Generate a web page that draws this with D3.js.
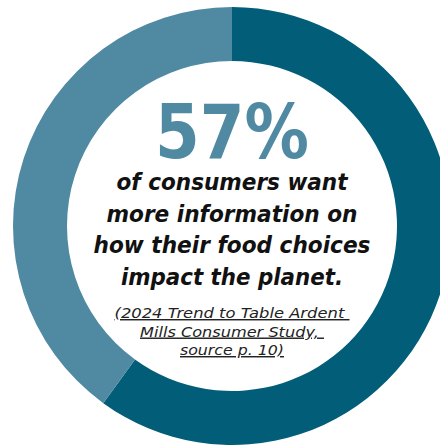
<!DOCTYPE html>
<html>
<head>
    <style type="text/css">
        body { margin: 0; background: #fff; }
        #mySvg { width: 440px; height: 445px; display: block; }
        text { text-anchor: middle; }
        .big { font-family: "DejaVu Sans", sans-serif; font-weight: bold; fill: #4f89a2; }
        .claim { font-family: "DejaVu Sans", sans-serif; font-weight: bold; font-style: italic; fill: #111; }
        .source { font-family: "DejaVu Sans", sans-serif; font-style: italic; fill: #222; text-decoration: underline; }
    </style>
    <script src="https://d3js.org/d3.v7.min.js"></script>
</head>
<body>
    <svg id="mySvg"></svg>
</body>
<script type="text/javascript">
// ring shares as drawn in the picture (dark part first, clockwise from top)
const segments = ['want more info', 'rest'];
const shares = [60, 40];
const segmentColors = ['#025e78', '#4f89a2'];

const headline = '57%';
const claimLines = ['of consumers want', 'more information on', 'how their food choices', 'impact the planet.'];
const claimWidths = [231, 251, 277, 222];
const sourceLines = ['(2024 Trend to Table Ardent\u00a0', 'Mills Consumer Study,\u00a0', 'source p. 10)'];
const sourceWidths = [235, 184, 104];

const cx = 232, cy = 226;
const outerR = 219, innerR = 165;

const svg = d3.select('#mySvg');
const g = svg.append('g').attr('transform', 'translate(' + cx + ',' + cy + ')');

const pie = d3.pie().sort(null).value(d => d.v);
const arc = d3.arc().innerRadius(innerR).outerRadius(outerR);

g.selectAll('path')
  .data(pie(segments.map((s, i) => ({name: s, v: shares[i]}))))
  .enter()
  .append('path')
  .attr('d', arc)
  .attr('fill', (d, i) => segmentColors[i]);

// big number
g.append('text')
  .attr('class', 'big')
  .attr('y', 158 - cy)
  .attr('font-size', 75)
  .attr('textLength', 154)
  .attr('lengthAdjust', 'spacingAndGlyphs')
  .text(headline);

g.selectAll('text.claim')
  .data(claimLines)
  .enter()
  .append('text')
  .attr('class', 'claim')
  .attr('y', (d, i) => 190 + i * 31.5 - cy)
  .attr('font-size', 22.5)
  .attr('textLength', (d, i) => claimWidths[i])
  .attr('lengthAdjust', 'spacingAndGlyphs')
  .text(d => d);

g.selectAll('text.source')
  .data(sourceLines)
  .enter()
  .append('text')
  .attr('class', 'source')
  .attr('y', (d, i) => 318 + i * 18.5 - cy)
  .attr('font-size', 14.5)
  .attr('textLength', (d, i) => sourceWidths[i])
  .attr('lengthAdjust', 'spacingAndGlyphs')
  .text(d => d);
</script>
</html>
